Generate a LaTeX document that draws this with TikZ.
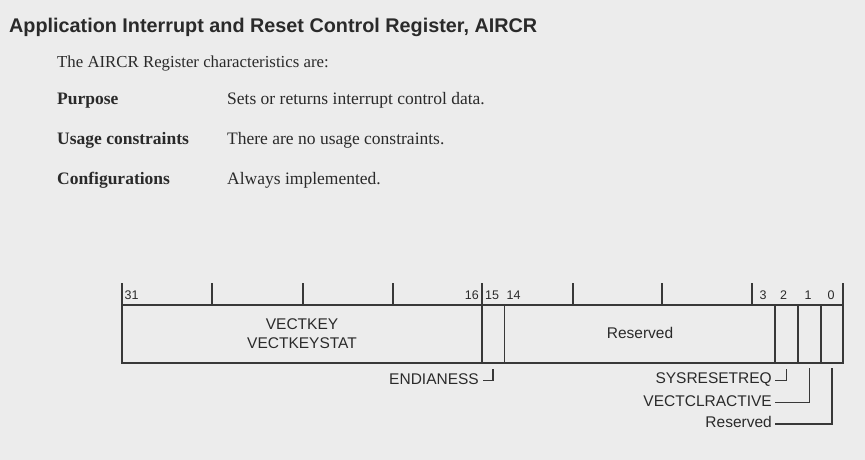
\documentclass[tikz,border=0pt]{standalone}
\usepackage{fontspec}
\setmainfont{Liberation Serif}
\newfontfamily\labelfont{Liberation Sans}
\definecolor{bgc}{HTML}{ECECEC}
\definecolor{inkc}{HTML}{2A2A2A}
\definecolor{linec}{HTML}{383838}
\begin{document}
\begin{tikzpicture}[x=1pt,y=-1pt,
  titletext/.style={anchor=base west,inner sep=0pt,text=inkc,font=\labelfont\fontsize{19.8}{22}\selectfont\bfseries},
  bodytext/.style={anchor=base west,inner sep=0pt,text=inkc,font=\fontsize{17.5}{19}\selectfont},
  headtext/.style={anchor=base west,inner sep=0pt,text=inkc,font=\fontsize{17.5}{19}\selectfont\bfseries},
  bitnum/.style={anchor=base,inner sep=0pt,text=inkc,font=\labelfont\fontsize{12.5}{14}\selectfont},
  fieldtext/.style={inner sep=0pt,text=inkc,font=\labelfont\fontsize{15.5}{17}\selectfont},
  sidetext/.style={anchor=east,inner sep=0pt,text=inkc,font=\labelfont\fontsize{15.5}{17}\selectfont},
  regline/.style={draw=linec,line width=1.8pt},
  leader/.style={draw=linec,line width=1.6pt}]
\fill[bgc] (0,0) rectangle (865,460);
\useasboundingbox (0,0) rectangle (865,460);

% texts
\node[titletext] (title) at (9,32.7) {Application Interrupt and Reset Control Register, AIRCR};
\node[bodytext,font=\fontsize{16.8}{18}\selectfont] (intro) at (57,67) {The AIRCR Register characteristics are:};
\node[headtext] (h1) at (57,104) {Purpose};
\node[bodytext] (d1) at (227,104) {Sets or returns interrupt control data.};
\node[headtext] (h2) at (57,144) {Usage constraints};
\node[bodytext] (d2) at (227,144) {There are no usage constraints.};
\node[headtext] (h3) at (57,184) {Configurations};
\node[bodytext] (d3) at (227,184) {Always implemented.};

% register box
\draw[regline] (122,305) rectangle (843,363);
% ticks above
\foreach \tx in {122,212,303,393,573,662,752,843}
  \draw[regline] (\tx,283) -- (\tx,305);
% dividers
\draw[regline] (482,283) -- (482,363);
\draw[regline] (504.5,305) -- (504.5,363);
\draw[regline] (775,305) -- (775,363);
\draw[regline] (798,305) -- (798,363);
\draw[regline] (821,305) -- (821,363);

% bit numbers
\node[bitnum,anchor=base west] (b31) at (124.5,299) {31};
\node[bitnum,anchor=base east] (b16) at (479,299) {16};
\node[bitnum] (b15) at (492,299) {15};
\node[bitnum] (b14) at (513.5,299) {14};
\node[bitnum] (b3) at (763,299) {3};
\node[bitnum] (b2) at (783.5,299) {2};
\node[bitnum] (b1) at (808,299) {1};
\node[bitnum] (b0) at (831,299) {0};

% field labels
\node[fieldtext] (vk) at (302,324) {VECTKEY};
\node[fieldtext] (vks) at (302,343.5) {VECTKEYSTAT};
\node[fieldtext] (res) at (640,333) {Reserved};

% side labels and leaders
\node[sidetext] (endi) at (479,379) {ENDIANESS};
\coordinate (e1) at (493,369);
\draw[leader] (e1) |- (483,380.5);
\node[sidetext] (sysr) at (772,380) {SYSRESETREQ};
\coordinate (s1) at (786.5,369);
\draw[leader] (s1) |- (775,380.5);
\node[sidetext] (vca) at (772,401) {VECTCLRACTIVE};
\coordinate (v1) at (809.5,368);
\draw[leader] (v1) |- (775,402.5);
\node[sidetext] (rs0) at (772,422) {Reserved};
\coordinate (r1) at (832,368);
\draw[leader] (r1) |- (775,424);
\end{tikzpicture}
\end{document}
